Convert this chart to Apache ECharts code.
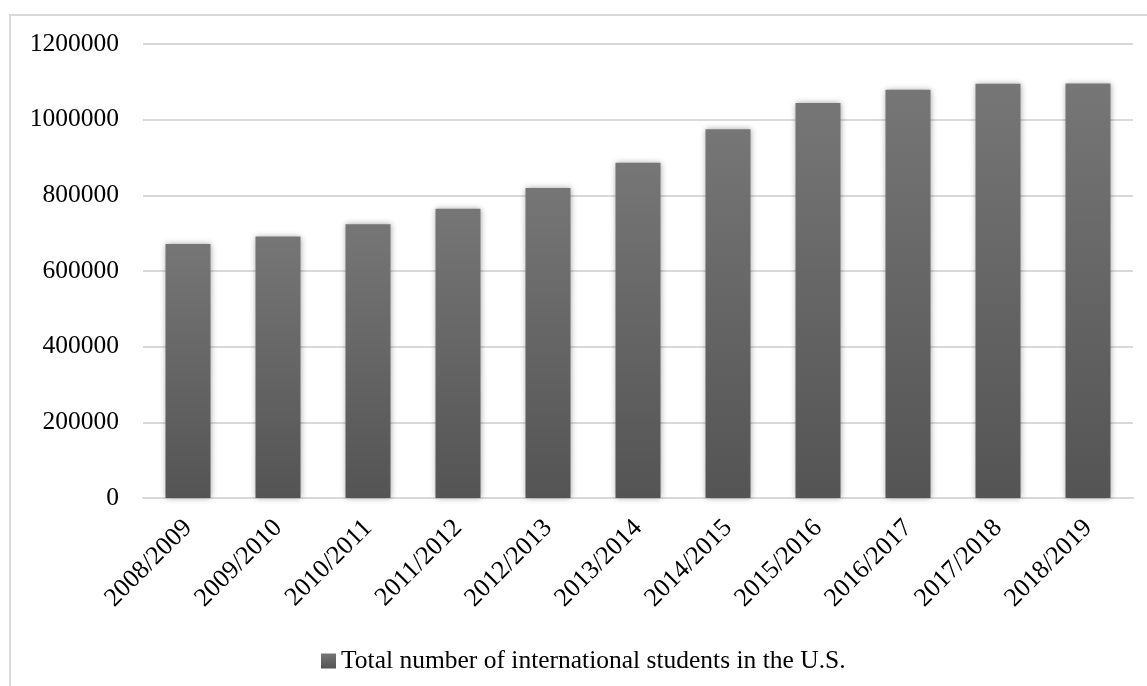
<!DOCTYPE html>
<html>
<head>
<meta charset="utf-8">
<script src="https://cdn.jsdelivr.net/npm/echarts@6/dist/echarts.min.js"></script>
<style>
  html, body { margin: 0; padding: 0; background: #fff; }
  #chart { width: 1147px; height: 686px; }
</style>
</head>
<body>
<div id="chart"></div>
<script>
// Academic years on the category axis
const years = ['2008/2009', '2009/2010', '2010/2011', '2011/2012', '2012/2013', '2013/2014',
               '2014/2015', '2015/2016', '2016/2017', '2017/2018', '2018/2019'];
// Total international students enrolled in the U.S. per academic year
const students = [671616, 690923, 723277, 764495, 819644, 886052, 974926, 1043839, 1078822, 1094792, 1095299];
const seriesName = 'Total number of international students in the U.S.';
// Value axis range and step
const yMin = 0;
const yMax = 1200000;
const yStep = 200000;

const serif = '"Liberation Serif", "Times New Roman", serif';
const chart = echarts.init(document.getElementById('chart'), null, { renderer: 'canvas' });

const barFill = new echarts.graphic.LinearGradient(0, 0, 0, 1, [
  { offset: 0, color: '#767676' },
  { offset: 1, color: '#545454' }
]);

chart.setOption({
  animation: false,
  backgroundColor: '#ffffff',
  graphic: [{
    type: 'rect',
    shape: { x: 10, y: 15, width: 1300, height: 1000 },
    style: { fill: 'none', stroke: '#d9d9d9', lineWidth: 2 },
    silent: true,
    z: -10
  }],
  grid: { left: 143, right: 14, top: 44, bottom: 188 },
  legend: {
    left: 316, top: 643,
    itemWidth: 15, itemHeight: 15, icon: 'rect',
    textStyle: { fontFamily: serif, fontSize: 25.5, color: '#000' },
    data: [{ name: seriesName, itemStyle: { color: barFill } }]
  },
  xAxis: {
    type: 'category',
    data: years,
    axisLine: { lineStyle: { color: '#d9d9d9', width: 2 } },
    axisTick: { show: false },
    axisLabel: {
      rotate: 45, margin: 26, interval: 0,
      fontFamily: serif, fontSize: 26, color: '#000'
    }
  },
  yAxis: {
    type: 'value',
    min: yMin, max: yMax, interval: yStep,
    axisLine: { show: false },
    axisTick: { show: false },
    splitLine: { lineStyle: { color: '#d9d9d9', width: 2 } },
    axisLabel: {
      margin: 24, fontFamily: serif, fontSize: 25.5, color: '#000',
      formatter: (v) => String(v)
    }
  },
  series: [{
    name: seriesName,
    type: 'bar',
    data: students,
    barWidth: '50%',
    itemStyle: {
      color: barFill,
      shadowBlur: 6,
      shadowColor: 'rgba(0,0,0,0.35)'
    }
  }]
});
</script>
</body>
</html>
